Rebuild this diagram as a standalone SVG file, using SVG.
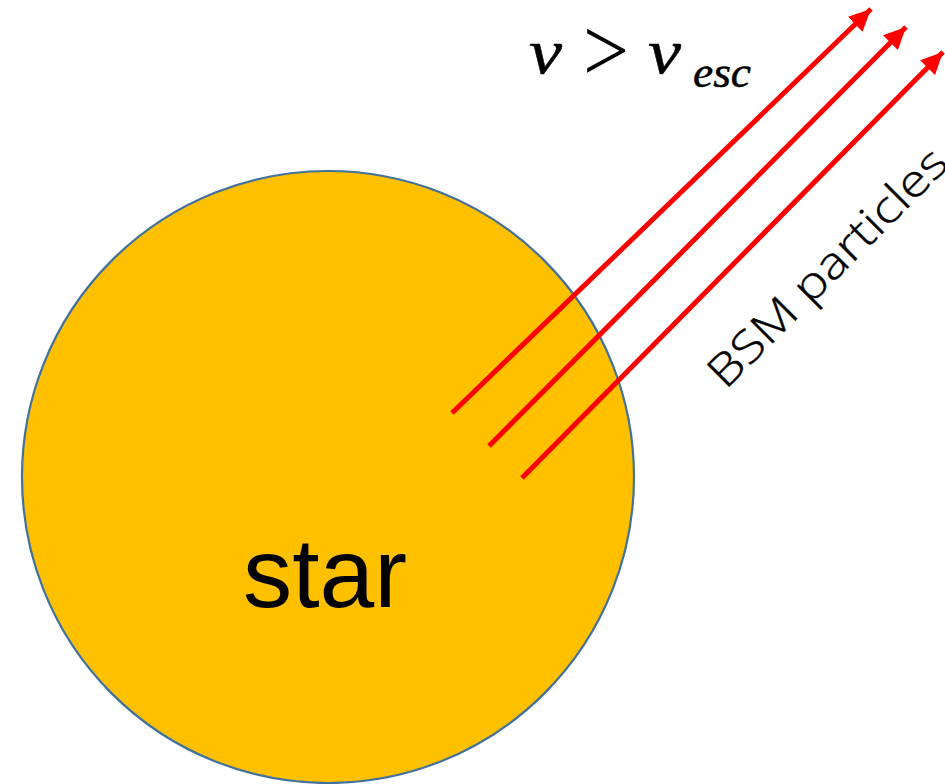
<svg xmlns="http://www.w3.org/2000/svg" width="945" height="784" viewBox="0 0 945 784">
<style>
.ray{stroke:#FF0000;stroke-width:5;fill:none;marker-end:url(#ah)}
.sans{font-family:"Liberation Sans","DejaVu Sans",sans-serif;fill:#000}
.light{font-family:"Open Sans","Lato","Liberation Sans",sans-serif;font-weight:300;fill:#000;stroke:#000;stroke-width:0.4}
.math{font-family:"Liberation Serif","DejaVu Serif",serif;font-style:italic;fill:#000;stroke:#000;stroke-width:0.5}
</style>
<defs>
<marker id="ah" markerWidth="4.4" markerHeight="4.2" refX="4.4" refY="2.1" orient="auto" markerUnits="strokeWidth">
<path d="M0,0 L4.4,2.1 L0,4.2 Z" fill="#FF0000"/>
</marker>
</defs>
<rect width="945" height="784" fill="#FFFFFF"/>
<g id="star">
<circle cx="328" cy="477" r="306" fill="#FFC000" stroke="#41719C" stroke-width="2.2"/>
<text class="sans" x="243" y="607" font-size="98" textLength="164" lengthAdjust="spacingAndGlyphs">star</text>
</g>
<g id="connectors">
<line class="ray" x1="452" y1="413" x2="871" y2="9"/>
<line class="ray" x1="489" y1="446" x2="906" y2="27"/>
<line class="ray" x1="522" y1="478" x2="943" y2="52"/>
</g>
<g id="label-v">
<text class="math" x="529" y="73" font-size="64" textLength="33" lengthAdjust="spacingAndGlyphs">v</text>
<text x="583" y="81" font-size="92" font-family="Liberation Serif, serif" fill="#000" textLength="46" lengthAdjust="spacingAndGlyphs">&gt;</text>
<text class="math" x="648" y="73" font-size="64" textLength="33" lengthAdjust="spacingAndGlyphs">v</text>
<text class="math" x="693" y="87" font-size="44" textLength="58" lengthAdjust="spacingAndGlyphs">esc</text>
</g>
<g id="label-bsm">
<text class="light" x="0" y="0" font-size="44" text-anchor="middle" textLength="318" lengthAdjust="spacingAndGlyphs" transform="translate(838,278) rotate(-45)">BSM particles</text>
</g>
</svg>
